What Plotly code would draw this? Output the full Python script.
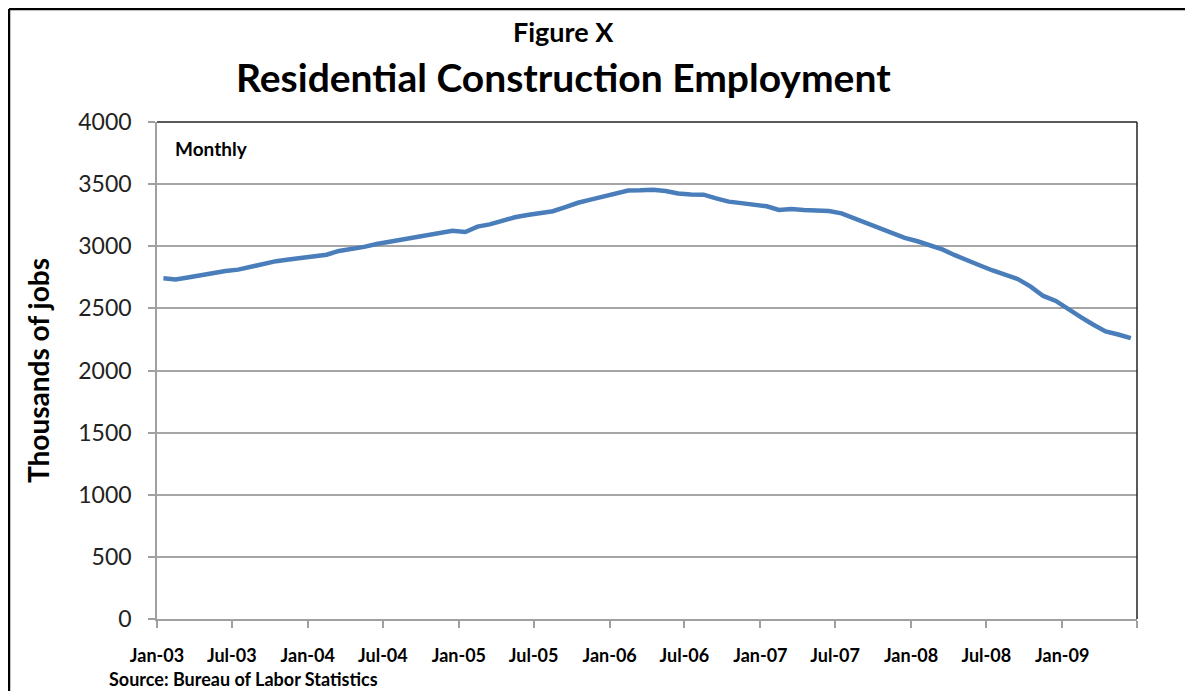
import pandas as pd
import plotly.graph_objects as go

# Monthly residential construction employment (thousands of jobs), Jan-03 .. Jun-09
months = pd.date_range("2003-01-01", periods=78, freq="MS")
employment = [
    2742, 2732, 2748, 2768, 2780, 2800, 2812, 2835, 2860, 2880, 2893, 2905,
    2922, 2932, 2962, 2975, 2995, 3018, 3036, 3058, 3070, 3095, 3108, 3125,
    3115, 3158, 3176, 3205, 3233, 3252, 3270, 3282, 3315, 3350, 3375, 3400,
    3430, 3448, 3450, 3455, 3445, 3425, 3416, 3415, 3385, 3359, 3347, 3335,
    3322, 3292, 3300, 3292, 3284, 3284, 3265, 3225, 3180, 3140, 3100, 3068,
    3040, 3010, 2975, 2928, 2882, 2845, 2805, 2768, 2735, 2675, 2600, 2560,
    2490, 2430, 2370, 2315, 2290, 2260,
]
tick_dates = pd.date_range("2003-01-01", "2009-07-01", freq="6MS")
tick_labels = [d.strftime("%b-%y") for d in tick_dates[:-1]] + [""]
y_ticks = list(range(0, 4001, 500))

FONT = "Lato"

# plot area in page pixels: x 157..1137, y 122..619  (page has 8px body margin)
PX0, PX1, PY0, PY1 = 157, 1137, 122, 619
PW, PH = PX1 - PX0, PY1 - PY0


def px(x):
    return (x - PX0) / PW


def py(y):
    return (PY1 - y) / PH


fig = go.Figure()
fig.add_trace(go.Scatter(
    x=months, y=employment, mode="lines",
    xperiod="M1", xperiodalignment="middle",
    line=dict(color="#4A7EBB", width=4.5),
    showlegend=False, hoverinfo="skip",
))

fig.update_layout(
    width=1185, height=683,
    margin=dict(l=PX0 - 8, r=1193 - PX1, t=PY0 - 8, b=691 - PY1),
    paper_bgcolor="white", plot_bgcolor="white",
    font=dict(family=FONT, color="black"),
    xaxis=dict(
        range=["2003-01-01", "2009-07-01"],
        tickvals=list(tick_dates), ticktext=tick_labels,
        showgrid=False, zeroline=False,
        showline=True, linecolor="#A0A0A0", linewidth=1.5,
        ticks="outside", ticklen=7, tickcolor="#A0A0A0", tickwidth=1.5,
        tickfont=dict(family=FONT, size=18, color="black", weight="bold"),
        ticklabelstandoff=13,
    ),
    yaxis=dict(
        range=[0, 4000], tickvals=y_ticks,
        showgrid=True, gridcolor="#A6A6A6", gridwidth=1.5,
        zeroline=False,
        showline=True, linecolor="#A0A0A0", linewidth=1.5,
        ticks="outside", ticklen=7, tickcolor="#A0A0A0", tickwidth=1.5,
        tickfont=dict(family=FONT, size=23, color="#222222"),
        ticklabelstandoff=12,
        title=dict(text="Thousands of jobs",
                   font=dict(family=FONT, size=28, color="black", weight="bold"), standoff=20),
    ),
    annotations=[
        dict(text="Figure X", xref="paper", yref="paper", x=px(563), y=py(32),
             xanchor="center", yanchor="middle",
             showarrow=False, font=dict(family=FONT, size=27, weight="bold")),
        dict(text="Residential Construction Employment", xref="paper", yref="paper",
             x=px(563), y=py(77), xanchor="center", yanchor="middle",
             showarrow=False, font=dict(family=FONT, size=39, weight="bold")),
        dict(text="Monthly", xref="paper", yref="paper", x=px(173), y=py(148),
             xanchor="left", yanchor="middle", showarrow=False,
             font=dict(family=FONT, size=19, weight="bold")),
        dict(text="Source: Bureau of Labor Statistics", xref="paper", yref="paper",
             x=px(107), y=py(679), xanchor="left", yanchor="middle",
             showarrow=False, font=dict(family=FONT, size=18, weight="bold")),
    ],
    shapes=[
        # plot-area top and right borders (dark)
        dict(type="line", xref="paper", yref="paper", x0=0, x1=1, y0=1, y1=1,
             line=dict(color="#222222", width=1.5)),
        dict(type="line", xref="paper", yref="paper", x0=1, x1=1, y0=0, y1=1,
             line=dict(color="#222222", width=1.5)),
        # outer chart frame (left and top)
        dict(type="line", xref="paper", yref="paper", x0=px(9), x1=px(9),
             y0=py(9), y1=py(760), line=dict(color="black", width=2.5)),
        dict(type="line", xref="paper", yref="paper", x0=px(9), x1=px(1250),
             y0=py(9), y1=py(9), line=dict(color="black", width=2.5)),
    ],
)

fig.write_html("out.html")
